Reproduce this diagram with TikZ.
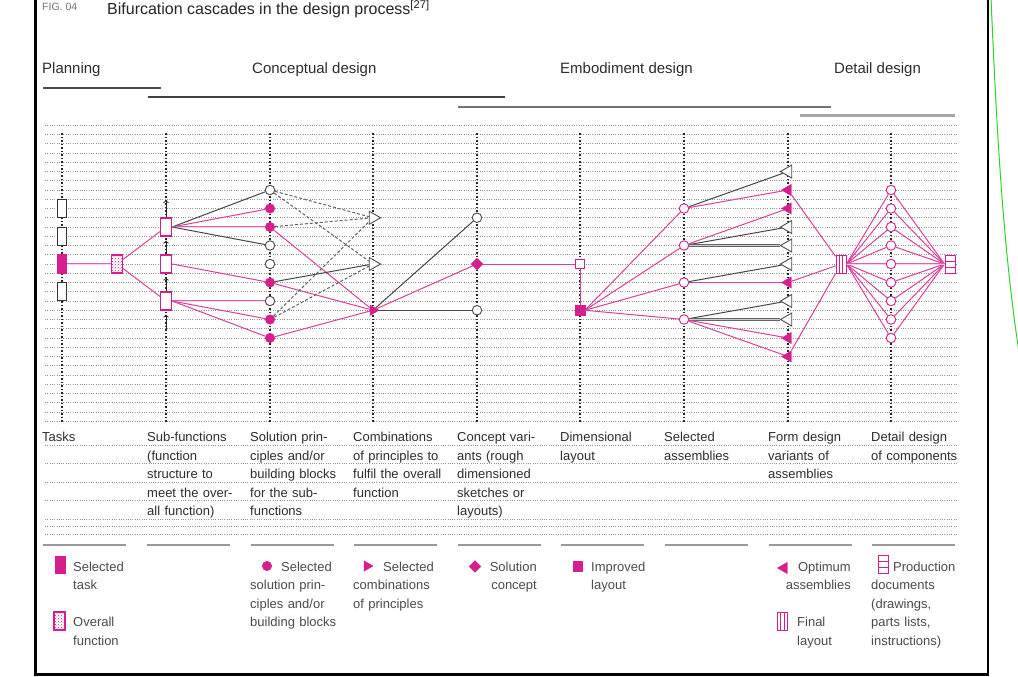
\documentclass[tikz,border=0pt]{standalone}
\usepackage{fontspec}
\setmainfont{Liberation Sans}
\usepackage{tikz}
\usetikzlibrary{shapes, shapes.geometric, arrows, positioning, patterns}
\definecolor{mag}{RGB}{214,30,140}
\definecolor{labgrey}{RGB}{45,45,45}
\definecolor{leggrey}{RGB}{75,75,75}
\definecolor{scrgreen}{RGB}{40,215,40}
\tikzstyle{gridline} = [draw=black!42, line width=0.75pt, dash pattern=on 1pt off 1.3pt]
\tikzstyle{colline} = [draw=black!85, line width=1.1pt, dash pattern=on 1.5pt off 2pt]
\tikzstyle{tasknode} = [rectangle, draw=black!80, fill=white, line width=1.2pt, minimum width=9.5pt, minimum height=18pt, inner sep=0pt]
\tikzstyle{taskselnode} = [tasknode, draw=mag, fill=mag]
\tikzstyle{funcnode} = [rectangle, draw=mag, fill=white, line width=1.2pt, minimum width=11pt, minimum height=18pt, inner sep=0pt]
\tikzstyle{overallnode} = [funcnode, preaction={fill=white}, pattern=crosshatch dots, pattern color=mag]
\tikzstyle{opendot} = [circle, draw=black!70, fill=white, line width=0.9pt, minimum size=9.5pt, inner sep=0pt]
\tikzstyle{seldot} = [circle, draw=mag, fill=mag, minimum size=9.5pt, inner sep=0pt]
\tikzstyle{pinkdot} = [circle, draw=mag, fill=white, line width=0.9pt, minimum size=9.5pt, inner sep=0pt]
\tikzstyle{opentri} = [regular polygon, regular polygon sides=3, shape border rotate=-90, draw=black!70, fill=white, line width=0.9pt, minimum size=15pt, inner sep=0pt]
\tikzstyle{seltri} = [regular polygon, regular polygon sides=3, shape border rotate=-90, draw=mag, fill=mag, minimum size=12pt, inner sep=0pt]
\tikzstyle{optopen} = [opentri, shape border rotate=90]
\tikzstyle{optsel} = [seltri, shape border rotate=90, minimum size=13pt]
\tikzstyle{conceptnode} = [diamond, draw=mag, fill=mag, minimum size=12pt, inner sep=0pt]
\tikzstyle{laybox} = [rectangle, draw=mag, fill=white, line width=1pt, minimum size=9.5pt, inner sep=0pt]
\tikzstyle{laysel} = [rectangle, draw=mag, fill=mag, minimum size=9.5pt, inner sep=0pt]
\tikzstyle{finalnode} = [rectangle, draw=mag, fill=white, line width=1pt, minimum width=10pt, minimum height=18pt, inner sep=0pt,
  path picture={\draw[mag, line width=0.8pt] ([xshift=-1.7pt]path picture bounding box.north) -- ([xshift=-1.7pt]path picture bounding box.south);
                \draw[mag, line width=0.8pt] ([xshift=1.7pt]path picture bounding box.north) -- ([xshift=1.7pt]path picture bounding box.south);}]
\tikzstyle{docnode} = [rectangle, draw=mag, fill=white, line width=1pt, minimum width=10pt, minimum height=18pt, inner sep=0pt,
  path picture={\draw[mag, line width=0.8pt] ([yshift=-3pt]path picture bounding box.west) -- ([yshift=-3pt]path picture bounding box.east);
                \draw[mag, line width=0.8pt] ([yshift=3pt]path picture bounding box.west) -- ([yshift=3pt]path picture bounding box.east);}]
\tikzstyle{pinkline} = [draw=mag!85, line width=1pt]
\tikzstyle{pinkdouble} = [draw=mag!70, line width=0.6pt, double=mag!20, double distance=1pt]
\tikzstyle{greyline} = [draw=black!72, line width=1pt]
\tikzstyle{greydouble} = [draw=black!60, line width=0.6pt, double=black!20, double distance=1pt]
\tikzstyle{greydash} = [draw=black!62, line width=1pt, dash pattern=on 3pt off 2pt]
\tikzstyle{flowline} = [draw=black!85, line width=1pt, ->]
\tikzstyle{collabel} = [anchor=base west, inner sep=0pt, text width=100pt, align=left, text=labgrey, font=\fontsize{13}{18.5}\selectfont]
\tikzstyle{legtext} = [collabel, text=leggrey]
\tikzstyle{phaselabel} = [anchor=base west, inner sep=0pt, text=labgrey, font=\fontsize{15}{18}\selectfont]

\begin{document}
\begin{tikzpicture}[x=1pt, y=-1pt]
	\useasboundingbox (0,0) rectangle (1018,677);
	\fill[white] (0,0) rectangle (1018,677);

	% frame and title
	\draw[black, line width=2.5pt] (35.5,-3) -- (35.5,674.5) -- (988,674.5) -- (988,-3);
	\draw[scrgreen, line width=1pt] (991,-2) .. controls (997,140) and (1004,260) .. (1021,365);
	\node[anchor=base west, inner sep=0pt, text=black!55, font=\fontsize{10.5}{12}\selectfont] (fig) at (42,11) {FIG. 04};
	\node[anchor=base west, inner sep=0pt, text=black!85, font=\fontsize{16}{18}\selectfont] (title) at (107,15)
		{Bifurcation cascades in the design process\textsuperscript{[27]}};

	% phases
	\node[phaselabel] (ph1) at (42,74) {Planning};
	\node[phaselabel] (ph2) at (252,74) {Conceptual design};
	\node[phaselabel] (ph3) at (560,74) {Embodiment design};
	\node[phaselabel] (ph4) at (834,74) {Detail design};
	\draw[black!70, line width=2pt] (43,88.5) -- (161,88.5);
	\draw[black!75, line width=2pt] (148,97) -- (505,97);
	\draw[black!55, line width=2pt] (458,106.5) -- (831,106.5);
	\draw[black!35, line width=2.2pt] (800,115.5) -- (955,115.5);

	% grid
	\foreach \k in {-15,...,17}
		\draw[gridline] (45,{264+9.25*\k}) -- (957,{264+9.25*\k});
	\foreach \y in {445,463.5,482,500.5,519,526,534.5}
		\draw[gridline] (45,\y) -- (957,\y);
	\foreach \x in {62,166,270,373,477,580,684,788,891}
		\draw[colline] (\x,133) -- (\x,422);
	\foreach \x in {62,166,270,373,477,580,684,788,891}
		\draw[black!40, line width=2.5pt] (\x-19,545) -- (\x+64,545);

	% tasks
	\node[tasknode] (t1) at (62,208.5) {};
	\node[tasknode] (t2) at (62,236.25) {};
	\node[taskselnode] (t3) at (62,264) {};
	\node[tasknode] (t4) at (62,291.75) {};
	\node[overallnode] (of) at (117,264) {};

	% sub-functions
	\coordinate (c2top) at (166,200);
	\coordinate (c2bot) at (166,330);
	\node[funcnode] (f1) at (166,227) {};
	\node[funcnode] (f2) at (166,264) {};
	\node[funcnode] (f3) at (166,301) {};

	% solution principles
	\node[opendot] (s1) at (270,190) {};
	\node[seldot] (s2) at (270,208.5) {};
	\node[seldot] (s3) at (270,227) {};
	\node[opendot] (s4) at (270,245.5) {};
	\node[opendot] (s5) at (270,264) {};
	\node[seldot] (s6) at (270,282.5) {};
	\node[opendot] (s7) at (270,301) {};
	\node[seldot] (s8) at (270,319.5) {};
	\node[seldot] (s9) at (270,338) {};

	% combinations
	\node[opentri] (k1) at (373,217.75) {};
	\node[opentri] (k2) at (373,264) {};
	\node[seltri] (k3) at (373,310.25) {};

	% concept variants
	\node[opendot] (v1) at (477,217.75) {};
	\node[conceptnode] (v2) at (477,264) {};
	\node[opendot] (v3) at (477,310.25) {};

	% dimensional layout
	\node[laybox] (l1) at (580,264) {};
	\node[laysel] (l2) at (580,310.25) {};

	% selected assemblies
	\node[pinkdot] (a1) at (684,208.5) {};
	\node[pinkdot] (a2) at (684,245.5) {};
	\node[pinkdot] (a3) at (684,282.5) {};
	\node[pinkdot] (a4) at (684,319.5) {};

	% form design variants
	\node[optopen] (o1) at (788,171.5) {};
	\node[optsel] (o2) at (788,190) {};
	\node[optsel] (o3) at (788,208.5) {};
	\node[optopen] (o4) at (788,227) {};
	\node[optopen] (o5) at (788,245.5) {};
	\node[optopen] (o6) at (788,264) {};
	\node[optsel] (o7) at (788,282.5) {};
	\node[optopen] (o8) at (788,301) {};
	\node[optopen] (o9) at (788,319.5) {};
	\node[optsel] (o10) at (788,338) {};
	\node[optsel] (o11) at (788,356.5) {};
	\node[finalnode] (fin) at (841,264) {};

	% detail design
	\foreach \i/\y in {1/190,2/208.5,3/227,4/245.5,5/264,6/282.5,7/301,8/319.5,9/338}
		\node[pinkdot] (d\i) at (891,\y) {};
	\node[docnode] (doc) at (950,264) {};

	% connectors
	\draw[pinkdouble] (t3) -- (of);
	\draw[pinkline] (of) -- (f1);
	\draw[pinkline] (of) -- (f3);
	\draw[flowline, shorten >=4pt] (c2bot) -- (f3);
	\draw[flowline, shorten >=4pt] (f3) -- (f2);
	\draw[flowline, shorten >=4pt] (f2) -- (f1);
	\draw[flowline] (f1) -- (c2top);

	\draw[greyline] (f1.east) -- (s1);
	\draw[pinkline] (f1.east) -- (s2);
	\draw[pinkdouble] (f1.east) -- (s3);
	\draw[greyline] (f1.east) -- (s4);
	\draw[pinkline] (f2.east) -- (s6);
	\draw[pinkdouble] (f3.east) -- (s7);
	\draw[pinkline] (f3.east) -- (s8);
	\draw[pinkline] (f3.east) -- (s9);

	\draw[greydash] (s1) -- (k1);
	\draw[greydash] (s1) -- (k2);
	\draw[greydash] (s3) -- (k1);
	\draw[pinkline] (s3) -- (k3);
	\draw[greyline] (s6) -- (k2);
	\draw[pinkline] (s6) -- (k3);
	\draw[greydash] (s8) -- (k1);
	\draw[greydash] (s8) -- (k2);
	\draw[pinkline] (s9) -- (k3);

	\draw[greyline] (k3) -- (v1);
	\draw[pinkline] (k3) -- (v2);
	\draw[greyline] (k3) -- (v3);
	\draw[pinkline] (v2) -- (l1);
	\draw[pinkline] (l1) -- (l2);
	\foreach \a in {a1,a2,a3,a4}
		\draw[pinkline] (l2.east) -- (\a);

	\draw[greyline] (a1) -- (o1);
	\draw[pinkline] (a1) -- (o2);
	\draw[pinkline] (a2) -- (o3);
	\draw[greyline] (a2) -- (o4);
	\draw[greydouble] (a2) -- (o5);
	\draw[greyline] (a3) -- (o6);
	\draw[pinkline] (a3) -- (o7);
	\draw[greyline] (a4) -- (o8);
	\draw[greydouble] (a4) -- (o9);
	\draw[pinkline] (a4) -- (o10);
	\draw[pinkline] (a4) -- (o11);
	\draw[pinkline] (o2) -- (fin);
	\draw[pinkline] (o7) -- (fin);
	\draw[pinkline] (o11) -- (fin);

	\foreach \i in {1,2,3,4,6,7,8,9} {
		\draw[pinkline] (fin.east) -- (d\i);
		\draw[pinkline] (d\i) -- (doc.west);
	}
	\draw[pinkdouble] (fin) -- (d5);
	\draw[pinkdouble] (d5) -- (doc);

	% column labels
	\node[collabel] (lab1) at (42,441.5) {Tasks};
	\node[collabel] (lab2) at (147,441.5) {Sub-functions\\(function\\structure to\\meet the over-\\all function)};
	\node[collabel] (lab3) at (250,441.5) {Solution prin-\\ciples and/or\\building blocks\\for the sub-\\functions};
	\node[collabel] (lab4) at (353,441.5) {Combinations\\of principles to\\fulfil the overall\\function};
	\node[collabel] (lab5) at (457,441.5) {Concept vari-\\ants (rough\\dimensioned\\sketches or\\layouts)};
	\node[collabel] (lab6) at (560,441.5) {Dimensional\\layout};
	\node[collabel] (lab7) at (664,441.5) {Selected\\assemblies};
	\node[collabel] (lab8) at (768,441.5) {Form design\\variants of\\assemblies};
	\node[collabel] (lab9) at (871,441.5) {Detail design\\of components};

	% legend
	\node[taskselnode, minimum width=9pt, minimum height=17pt] (lg1) at (60.5,565) {};
	\node[legtext] (lt1) at (73,571) {Selected\\task};
	\node[overallnode] (lg2) at (59.5,621) {};
	\node[legtext] (lt2) at (73,626.5) {Overall\\function};
	\node[seldot] (lg3) at (267,566) {};
	\node[legtext] (lt3) at (281,571) {Selected};
	\node[legtext] (lt3b) at (250,589.5) {solution prin-\\ciples and/or\\building blocks};
	\node[seltri] (lg4) at (367,566) {};
	\node[legtext] (lt4) at (383,571) {Selected};
	\node[legtext] (lt4b) at (353,589.5) {combinations\\of principles};
	\node[conceptnode] (lg5) at (475,566.5) {};
	\node[legtext, anchor=base east, text width=60pt, align=right] (lt5) at (537,571) {Solution\\concept};
	\node[laysel] (lg6) at (577.5,566) {};
	\node[legtext] (lt6) at (591,571) {Improved\\layout};
	\node[optsel] (lg7) at (784,568) {};
	\node[legtext, anchor=base east, text width=70pt, align=right] (lt7) at (851,571) {Optimum\\assemblies};
	\node[finalnode] (lg8) at (782.5,621.5) {};
	\node[legtext] (lt8) at (797,626.5) {Final\\layout};
	\node[docnode] (lg9) at (883,564) {};
	\node[legtext] (lt9) at (893,571) {Production};
	\node[legtext] (lt9b) at (871,589.5) {documents\\(drawings,\\parts lists,\\instructions)};
\end{tikzpicture}
\end{document}
